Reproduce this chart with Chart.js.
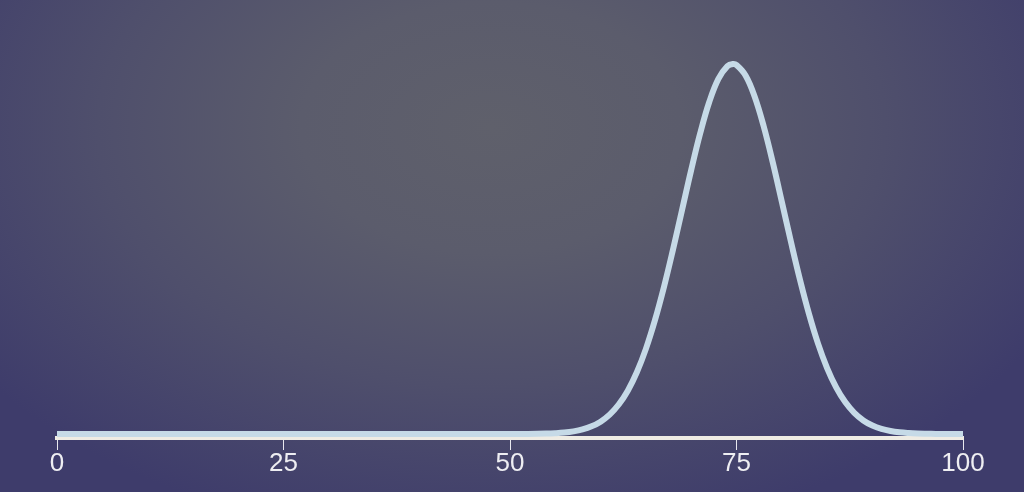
<!DOCTYPE html>
<html>
<head>
<meta charset="utf-8">
<script src="https://cdn.jsdelivr.net/npm/chart.js@4/dist/chart.umd.min.js"></script>
<style>
  html, body { margin: 0; padding: 0; width: 1024px; height: 492px; overflow: hidden; }
  body {
    background: radial-gradient(ellipse 62% 85% at 48% 26%, #5f606b 0%, #5b5c6c 30%, #4f4f6c 62%, #3e3c6b 100%);
  }
  #wrap { position: absolute; left: 0; top: 0; width: 1024px; height: 492px; }
</style>
</head>
<body>
<div id="wrap"><canvas id="c" width="1024" height="492"></canvas></div>
<script>
// x positions (score)
const xValues = [0, 10, 20, 30, 40, 46, 50, 52, 54, 55, 56, 57, 58, 59, 60, 61, 62, 63, 64, 65,
  66, 67, 68, 69, 70, 71, 72, 73, 74, 74.6, 75, 76, 77, 78, 79, 80, 81, 82, 83, 84, 85,
  86, 87, 88, 89, 90, 91, 92, 93, 94, 95, 96, 97, 98, 99, 100];
// relative curve height (peak = 1)
const yValues = [0, 0, 0, 0, 0, 0, 0.0001, 0.0003, 0.0012, 0.0022, 0.0040, 0.0072, 0.0124, 0.0207, 0.0334, 0.0524, 0.0796, 0.1170, 0.1668, 0.2301,
  0.3076, 0.3981, 0.4994, 0.6065, 0.7136, 0.8133, 0.8978, 0.9600, 0.9943, 1.0, 0.9974, 0.9692, 0.9123, 0.8317, 0.7345, 0.6282, 0.5205, 0.4177, 0.3247, 0.2444, 0.1783,
  0.1260, 0.0862, 0.0571, 0.0367, 0.0228, 0.0137, 0.0080, 0.0045, 0.0025, 0.0013, 0.0007, 0.0003, 0.0002, 0.0001, 0];
const xTicks = [0, 25, 50, 75, 100];

const points = xValues.map((x, i) => ({ x: x, y: yValues[i] }));

new Chart(document.getElementById('c'), {
  type: 'line',
  data: {
    datasets: [{
      data: points,
      borderColor: '#c6dae7',
      borderWidth: 6,
      pointRadius: 0,
      fill: false,
      tension: 0.4,
      borderCapStyle: 'butt',
      borderJoinStyle: 'round',
      clip: false
    }]
  },
  options: {
    responsive: false,
    animation: false,
    events: [],
    layout: { padding: { left: 57, right: 61, top: 0, bottom: 0 } },
    plugins: { legend: { display: false }, tooltip: { enabled: false } },
    scales: {
      x: {
        type: 'linear',
        min: 0,
        max: 100,
        afterBuildTicks: (s) => { s.ticks = xTicks.map(v => ({ value: v })); },
        afterFit: (s) => { s.height = 54; },
        border: { display: true, color: '#efece4', width: 4 },
        grid: { display: true, drawOnChartArea: false, drawTicks: true, tickLength: 12, color: '#e8e8ee', lineWidth: 1 },
        ticks: {
          color: '#eeeef2',
          padding: -2,
          maxRotation: 0,
          autoSkip: false,
          font: { family: '"Liberation Sans", Arial, sans-serif', size: 26 }
        }
      },
      y: {
        display: false,
        min: -0.0108,
        max: 1.173
      }
    }
  }
});
</script>
</body>
</html>
